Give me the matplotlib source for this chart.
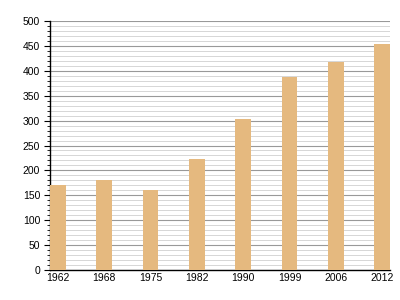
import matplotlib

matplotlib.use("Agg")

import matplotlib.pyplot as plt  # noqa: E402
from matplotlib.ticker import MultipleLocator  # noqa: E402

years = ["1962", "1968", "1975", "1982", "1990", "1999", "2006", "2012"]
population = [171, 181, 161, 223, 303, 388, 418, 454]

plt.rcParams["font.family"] = ["Liberation Sans", "DejaVu Sans"]

fig = plt.figure(figsize=(4, 3), dpi=100)
ax = fig.add_axes((0.125, 0.1, 0.85, 0.83))

w = 0.34
x = range(len(years))
ax.bar(x, population, width=w, color="#e5b97f", zorder=3)

ax.set_xlim(-w / 2, len(years) - 1 + w / 2)
ax.set_ylim(0, 500)
ax.set_xticks(list(x))
ax.set_xticklabels(years)

ax.yaxis.set_major_locator(MultipleLocator(50))
ax.yaxis.set_minor_locator(MultipleLocator(10))
ax.grid(axis="y", which="major", color="#999999", linewidth=0.8, zorder=0)
ax.grid(axis="y", which="minor", color="#d0d0d0", linewidth=0.6, zorder=0)

for side in ("top", "right"):
    ax.spines[side].set_visible(False)
ax.spines["left"].set_linewidth(1.0)
ax.spines["bottom"].set_linewidth(1.0)

ax.tick_params(axis="y", which="major", length=4, labelsize=7.5, pad=3)
ax.tick_params(axis="y", which="minor", length=2)
ax.tick_params(axis="x", length=0, labelsize=7.5, pad=2)

fig.savefig("out.png", dpi=100)
